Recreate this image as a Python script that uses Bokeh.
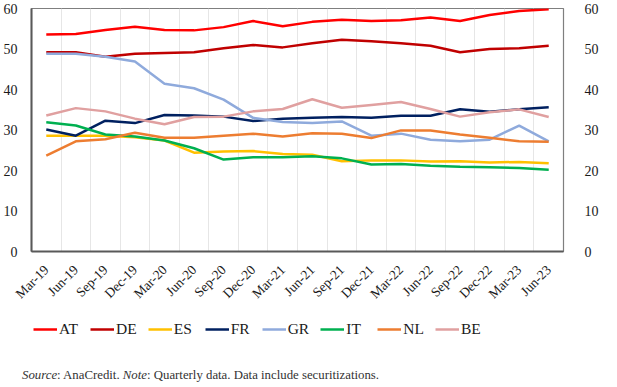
import math
from bokeh.plotting import figure
from bokeh.models import Range1d, LinearAxis, FixedTicker, Legend, LegendItem, Div
from bokeh.layouts import column
from bokeh.embed import file_html
from bokeh.resources import INLINE

quarters = ["Mar-19", "Jun-19", "Sep-19", "Dec-19", "Mar-20", "Jun-20", "Sep-20", "Dec-20",
            "Mar-21", "Jun-21", "Sep-21", "Dec-21", "Mar-22", "Jun-22", "Sep-22", "Dec-22",
            "Mar-23", "Jun-23"]

AT = [53.6, 53.7, 54.7, 55.5, 54.7, 54.6, 55.4, 56.9, 55.6, 56.7, 57.2, 56.9, 57.1, 57.8, 56.9, 58.4, 59.4, 59.8]
DE = [49.2, 49.2, 48.1, 48.8, 49.0, 49.2, 50.2, 51.0, 50.4, 51.4, 52.3, 51.9, 51.4, 50.8, 49.2, 50.0, 50.2, 50.8]
ES = [28.6, 28.6, 28.6, 28.2, 27.4, 24.4, 24.7, 24.8, 24.1, 23.9, 22.3, 22.5, 22.5, 22.2, 22.3, 22.0, 22.1, 21.8]
FR = [30.1, 28.6, 32.3, 31.7, 33.7, 33.6, 33.3, 32.2, 32.8, 33.0, 33.2, 33.0, 33.5, 33.5, 35.1, 34.5, 35.1, 35.6]
GR = [48.8, 48.8, 48.1, 46.9, 41.4, 40.3, 37.5, 33.0, 32.0, 31.7, 32.1, 28.6, 29.1, 27.6, 27.2, 27.6, 31.1, 27.2]
IT = [31.9, 31.1, 28.9, 28.4, 27.4, 25.5, 22.7, 23.3, 23.3, 23.5, 23.0, 21.5, 21.6, 21.2, 20.9, 20.8, 20.6, 20.2]
NL = [23.7, 27.2, 27.7, 29.3, 28.1, 28.1, 28.6, 29.1, 28.4, 29.2, 29.1, 28.0, 29.9, 29.9, 28.9, 28.1, 27.2, 27.1]
BE = [33.6, 35.4, 34.6, 32.8, 31.4, 33.2, 33.3, 34.6, 35.2, 37.6, 35.5, 36.2, 36.9, 35.2, 33.3, 34.4, 35.1, 33.2]

series_names = ["AT", "DE", "ES", "FR", "GR", "IT", "NL", "BE"]
series_values = [AT, DE, ES, FR, GR, IT, NL, BE]
colors = ["#FF0000", "#C00000", "#FFC000", "#002060", "#8FAADC", "#00B050", "#ED7D31", "#E0A0A0"]
y_ticks = [0, 10, 20, 30, 40, 50, 60]

xs = list(range(len(quarters)))
serif = "Liberation Serif"

p = figure(frame_width=532, frame_height=243, output_backend="svg", toolbar_location=None,
           x_range=Range1d(-0.5, len(quarters) - 0.5), y_range=Range1d(0, 60),
           min_border_left=28, min_border_right=41, min_border_top=8, min_border_bottom=60)
p.background_fill_color = "white"
p.border_fill_color = "white"
p.outline_line_color = "#7F7F7F"
p.outline_line_width = 1.2

# x axis
p.xaxis.ticker = FixedTicker(ticks=xs)
p.xaxis.major_label_overrides = {i: q for i, q in enumerate(quarters)}
p.xaxis.major_label_orientation = math.pi / 4
p.xaxis.major_label_text_font = serif
p.xaxis.major_label_text_font_size = "13.5px"
p.xaxis.major_label_text_color = "#1a1a1a"
p.xaxis.major_tick_line_color = None
p.xaxis.minor_tick_line_color = None
p.xaxis.axis_line_color = "#595959"
p.xaxis.axis_line_width = 2
p.xaxis.major_label_standoff = 10

# left y axis
p.yaxis.ticker = FixedTicker(ticks=y_ticks)
p.yaxis.major_label_text_font = serif
p.yaxis.major_label_text_font_size = "14px"
p.yaxis.major_label_text_color = "#1a1a1a"
p.yaxis.major_tick_line_color = None
p.yaxis.minor_tick_line_color = None
p.yaxis.axis_line_color = "#595959"
p.yaxis.axis_line_width = 2
p.yaxis.major_label_standoff = 8

right = LinearAxis(ticker=FixedTicker(ticks=y_ticks))
right.major_label_text_font = serif
right.major_label_text_font_size = "14px"
right.major_label_text_color = "#1a1a1a"
right.major_tick_line_color = None
right.minor_tick_line_color = None
right.axis_line_color = None
right.major_label_standoff = 15
p.add_layout(right, "right")

p.ygrid.grid_line_color = None
p.xgrid.ticker = FixedTicker(ticks=[i + 0.5 for i in xs[:-1]])
p.xgrid.grid_line_color = "#E6E6E6"
p.xgrid.grid_line_width = 1

for vals, col in zip(series_values, colors):
    p.line(xs, vals, line_color=col, line_width=2.5)

# legend strip: separate figure (its series lie outside its view, only the legend shows)
lg = figure(width=601, height=34, output_backend="svg", toolbar_location=None,
            x_range=Range1d(0, 1), y_range=Range1d(1000, 1001),
            min_border_left=0, min_border_right=0, min_border_top=0, min_border_bottom=0)
lg.axis.visible = False
lg.grid.grid_line_color = None
lg.outline_line_color = None
items = []
for name, vals, col in zip(series_names, series_values, colors):
    r = lg.line(xs, vals, line_color=col, line_width=2.5)
    items.append(LegendItem(label=name, renderers=[r]))
legend = Legend(items=items, orientation="horizontal", location=(2, 7),
                label_text_font=serif, label_text_font_size="15.5px", label_text_color="#1a1a1a",
                glyph_width=24, glyph_height=14, label_standoff=2, spacing=11,
                border_line_color=None, background_fill_alpha=0, margin=0, padding=0)
lg.add_layout(legend, "center")

note = Div(text="<i>Source</i>: AnaCredit. <i>Note</i>: Quarterly data. Data include securitizations.",
           width=601, height=30,
           styles={"font-family": "Liberation Serif", "font-size": "12.8px", "color": "#333333",
                   "padding-left": "17px", "margin-top": "21px"})

layout = column(p, lg, note, spacing=0)

open("out.html", "w").write(file_html(layout, INLINE))
